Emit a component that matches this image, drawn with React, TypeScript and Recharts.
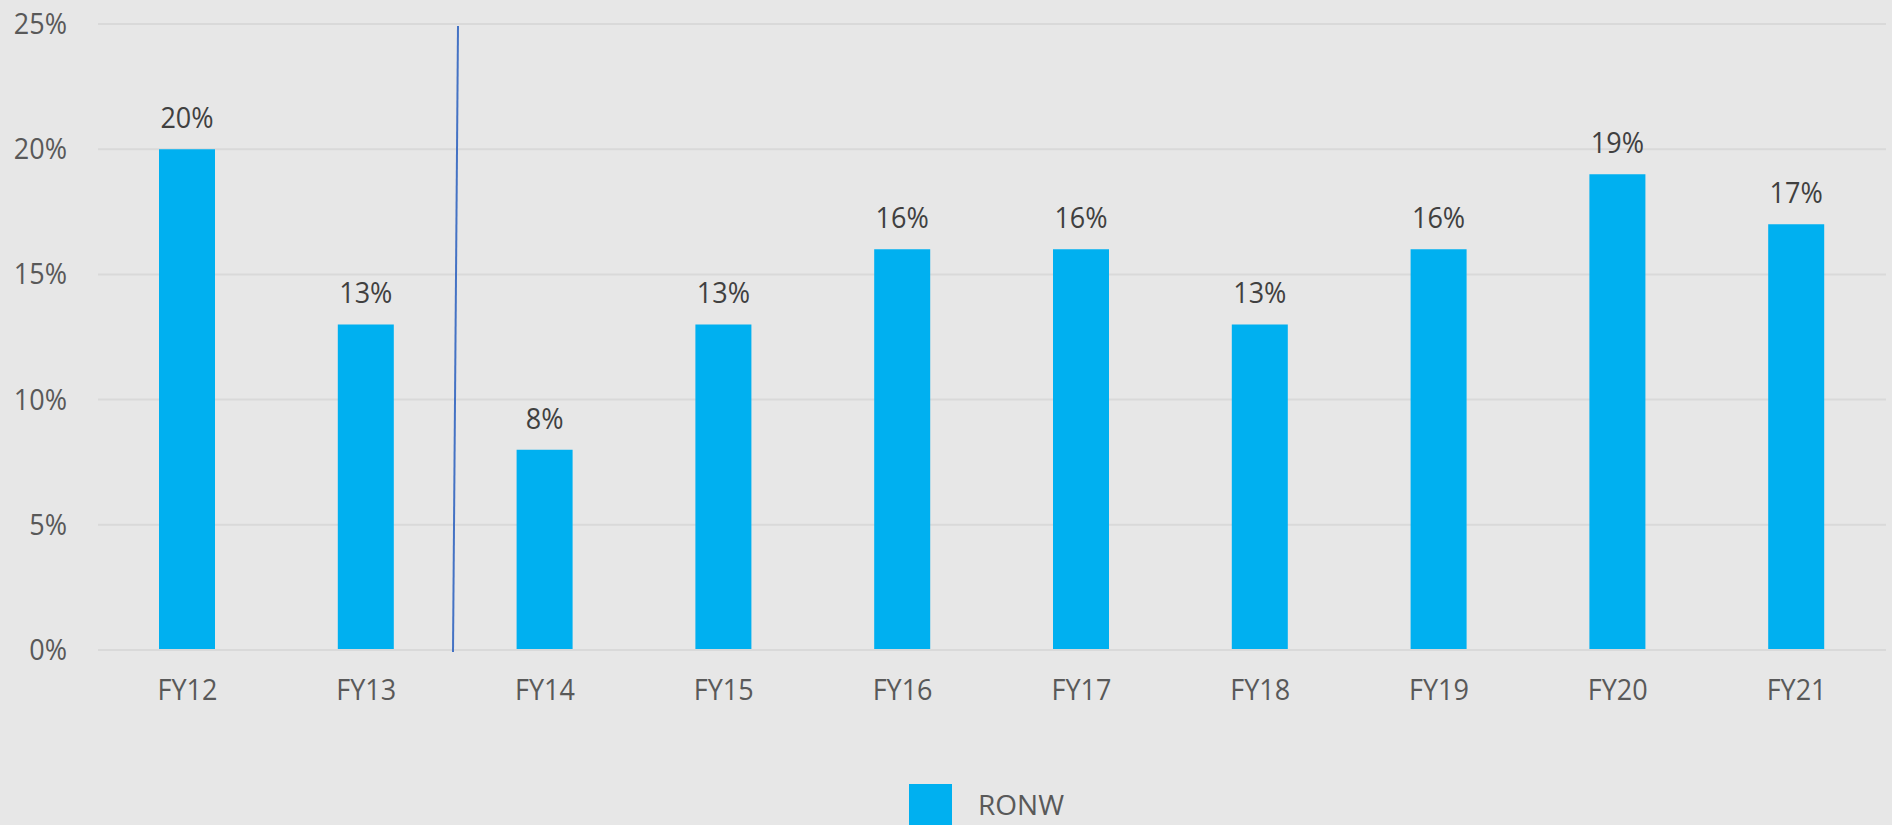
import { Bar, BarChart, CartesianGrid, LabelList, Legend, XAxis, YAxis } from 'recharts'

const years = ['FY12', 'FY13', 'FY14', 'FY15', 'FY16', 'FY17', 'FY18', 'FY19', 'FY20', 'FY21']
const ronw = [20, 13, 8, 13, 16, 16, 13, 16, 19, 17]
const yTicks = [0, 5, 10, 15, 20, 25]

const data = years.map((fy, i) => ({ fy, ronw: ronw[i] }))

const FONT = "'Open Sans', sans-serif"
// the source text is a narrow face, so squeeze Open Sans a bit
const SQUEEZE = 0.9

function XTick({ x, y, payload }: any) {
  return (
    <text
      transform={`translate(${x},${y + 42}) scale(${SQUEEZE},1)`}
      textAnchor="middle"
      fontFamily={FONT}
      fontSize={30}
      fill="#595959"
    >
      {payload.value}
    </text>
  )
}

function YTick({ x, y, payload }: any) {
  return (
    <text
      transform={`translate(${x},${y + 10}) scale(${SQUEEZE},1)`}
      textAnchor="end"
      fontFamily={FONT}
      fontSize={30}
      fill="#595959"
    >
      {payload.value}%
    </text>
  )
}

function TopLabel({ x, y, width, value }: any) {
  return (
    <text
      transform={`translate(${x + width / 2},${y - 21}) scale(${SQUEEZE},1)`}
      textAnchor="middle"
      fontFamily={FONT}
      fontSize={30}
      fill="#404040"
    >
      {value}%
    </text>
  )
}

function LegendBox() {
  return (
    <div style={{ display: 'flex', alignItems: 'flex-start', fontFamily: FONT }}>
      <div style={{ width: 43, height: 41, background: '#00b0f0' }} />
      <span style={{ marginLeft: 26, fontSize: 28, color: '#595959', lineHeight: '28px', marginTop: 6 }}>
        RONW
      </span>
    </div>
  )
}

export default function App() {
  return (
    <div
      style={{
        position: 'absolute',
        left: 0,
        top: 0,
        width: 1892,
        height: 825,
        overflow: 'hidden',
        background: '#e7e7e7',
      }}
    >
      <BarChart
        width={1892}
        height={825}
        data={data}
        margin={{ top: 24, right: 6, bottom: 74, left: 0 }}
      >
        <CartesianGrid stroke="#d9d9d9" strokeWidth={2} vertical={false} />
        <XAxis
          dataKey="fy"
          tick={<XTick />}
          tickLine={false}
          axisLine={{ stroke: '#d9d9d9', strokeWidth: 2 }}
          height={60}
          interval={0}
        />
        <YAxis
          domain={[0, 25]}
          ticks={yTicks}
          tick={<YTick />}
          tickLine={false}
          axisLine={false}
          tickMargin={25}
          width={98}
        />
        <Legend
          content={() => <LegendBox />}
          wrapperStyle={{ position: 'absolute', left: 909, top: 784, width: 300 }}
        />
        <Bar dataKey="ronw" name="RONW" fill="#00b0f0" barSize={56} isAnimationActive={false}>
          <LabelList dataKey="ronw" content={<TopLabel />} />
        </Bar>
      </BarChart>
      <svg
        width={1892}
        height={825}
        style={{ position: 'absolute', left: 0, top: 0, pointerEvents: 'none' }}
      >
        <line x1={458} y1={26} x2={453} y2={652} stroke="#4472c4" strokeWidth={2} />
      </svg>
    </div>
  )
}
